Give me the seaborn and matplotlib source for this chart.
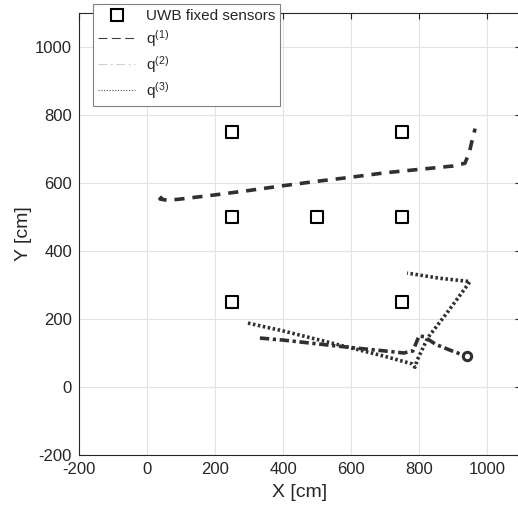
import numpy as np
import pandas as pd
import matplotlib
matplotlib.use('Agg')
import matplotlib.pyplot as plt
import seaborn as sns
from matplotlib.lines import Line2D

# sensors
sensor_x = [250, 750, 250, 500, 750, 250, 750]
sensor_y = [750, 750, 500, 500, 500, 250, 250]

# trajectory q(1)
q1_x = [45, 38, 60, 100, 200, 300, 400, 500, 600, 700, 800, 900, 935, 948, 955, 965]
q1_y = [560, 553, 549, 553, 565, 578, 592, 605, 617, 630, 640, 650, 658, 690, 720, 760]

# trajectory q(2)
q2_x = [332, 400, 500, 600, 700, 755, 782, 800, 815, 850, 900, 941]
q2_y = [144, 138, 127, 116, 106, 100, 106, 150, 148, 125, 105, 90]

# trajectory q(3)
q3_x = [297, 400, 500, 600, 700, 780, 788, 795, 826, 880, 950, 860, 765]
q3_y = [188, 165, 140, 115, 90, 68, 58, 80, 145, 215, 310, 320, 335]

df_sensors = pd.DataFrame({'x': sensor_x, 'y': sensor_y})
df_q1 = pd.DataFrame({'x': q1_x, 'y': q1_y})
df_q2 = pd.DataFrame({'x': q2_x, 'y': q2_y})
df_q3 = pd.DataFrame({'x': q3_x, 'y': q3_y})

sns.set_style('white')
plt.rcParams['font.family'] = ['Liberation Sans', 'DejaVu Sans']
plt.rcParams['axes.unicode_minus'] = False
plt.rcParams['mathtext.fontset'] = 'custom'
plt.rcParams['mathtext.rm'] = 'Liberation Sans'
plt.rcParams['mathtext.it'] = 'Liberation Sans'

fig = plt.figure(figsize=(5.18, 5.14), dpi=100)
ax = fig.add_axes([79 / 518, 1 - 455 / 514, 442 / 518, 442 / 514])

dark = '#303030'
sns.lineplot(data=df_q1, x='x', y='y', sort=False, estimator=None, ax=ax,
             color=dark, lw=2.6, linestyle=(0, (2.8, 2.2)))
sns.lineplot(data=df_q2, x='x', y='y', sort=False, estimator=None, ax=ax,
             color=dark, lw=2.6, linestyle=(0, (2.6, 1.0, 0.9, 1.0)))
sns.lineplot(data=df_q3, x='x', y='y', sort=False, estimator=None, ax=ax,
             color=dark, lw=2.6, linestyle=(0, (0.7, 0.7)))
# end point marker of q(2)
ax.plot(q2_x[-1], q2_y[-1], marker='o', ms=6, mfc='white', mec=dark, mew=2.2, ls='none')

sns.scatterplot(data=df_sensors, x='x', y='y', marker='s', s=75,
                facecolor='white', edgecolor='black', linewidth=1.5, ax=ax, zorder=5)

ax.set_xlim(-200, 1100)
ax.set_ylim(-200, 1100)
ax.set_xticks(np.arange(-200, 1001, 200))
ax.set_yticks(np.arange(-200, 1001, 200))
ax.grid(True, color='#e3e3e3', lw=0.8)
ax.set_axisbelow(True)
ax.tick_params(direction='in', length=4, labelsize=12, top=True, right=True,
               color='#262626', labelcolor='#262626', pad=5)
for s in ax.spines.values():
    s.set_color('#262626')
    s.set_linewidth(0.8)
ax.set_xlabel('X [cm]', fontsize=14, color='#262626', labelpad=5)
ax.set_ylabel('Y [cm]', fontsize=14, color='#262626', labelpad=2)

handles = [
    Line2D([], [], marker='s', ms=8, mfc='white', mec='black', mew=1.5, ls='none'),
    Line2D([], [], color='#404040', lw=0.8, linestyle=(0, (8, 4))),
    Line2D([], [], color='#d0d0d0', lw=0.8, linestyle=(0, (8, 3, 2, 3))),
    Line2D([], [], color='#505050', lw=0.8, linestyle=(0, (1, 1.5))),
]
labels = ['UWB fixed sensors', r'q$^{(1)}$', r'q$^{(2)}$', r'q$^{(3)}$']
leg = fig.legend(handles, labels, loc='upper left', bbox_to_anchor=(93 / 518, 1 - 4 / 514),
                 fontsize=11, frameon=True, fancybox=False, borderaxespad=0,
                 handlelength=2.4, handletextpad=0.7, labelspacing=0.32,
                 borderpad=0.35)
leg.get_frame().set_edgecolor('#808080')
leg.get_frame().set_linewidth(0.8)
leg.get_frame().set_alpha(1)

fig.savefig('out.png', dpi=100)
